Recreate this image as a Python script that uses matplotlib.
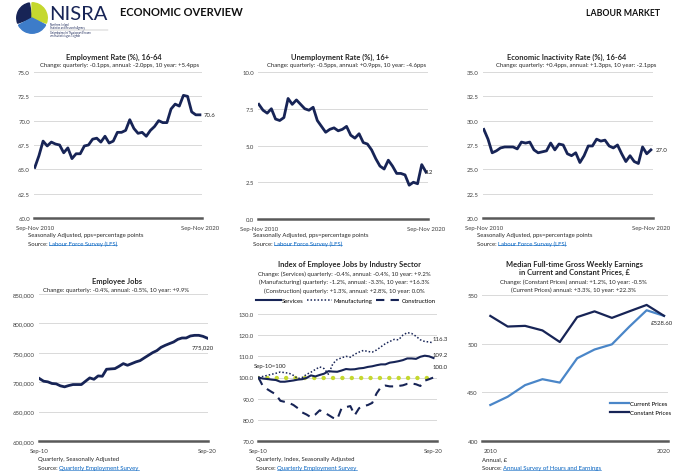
import matplotlib.pyplot as plt
import numpy as np
from matplotlib.patches import Wedge
from matplotlib.lines import Line2D
from matplotlib.ticker import FuncFormatter

plt.rcParams['font.family'] = ['Lato', 'DejaVu Sans']

# --- datos ---
trimestres = list(range(41))
tasa_empleo = [65.2, 66.4, 67.9, 67.4, 67.8, 67.6, 67.5, 66.7, 67.2, 66.1,
               66.6, 66.6, 67.4, 67.5, 68.1, 68.2, 67.8, 68.4, 67.7, 67.9,
               68.8, 68.8, 69.0, 70.1, 69.2, 68.7, 68.8, 68.4, 69.0, 69.4,
               70.0, 69.8, 69.8, 71.2, 71.7, 71.5, 72.6, 72.5, 70.9, 70.6, 70.6]
tasa_desempleo = [7.8, 7.4, 7.2, 7.5, 6.8, 6.7, 6.9, 8.2, 7.8, 8.1,
                  7.8, 7.5, 7.4, 7.6, 6.7, 6.3, 5.9, 6.1, 6.2, 6.0,
                  6.1, 6.3, 5.7, 5.5, 5.8, 5.2, 5.1, 4.7, 4.1, 3.6,
                  3.4, 4.0, 3.6, 3.1, 3.1, 3.0, 2.3, 2.5, 2.4, 3.7, 3.2]
tasa_inactividad = [29.1, 28.1, 26.7, 26.9, 27.2, 27.3, 27.3, 27.3, 27.1, 27.8,
                    27.7, 27.8, 27.0, 26.7, 26.8, 26.9, 27.7, 27.0, 27.6, 27.5,
                    26.6, 26.4, 26.7, 25.7, 26.4, 27.4, 27.4, 28.1, 27.9, 28.0,
                    27.4, 27.2, 27.5, 26.6, 25.8, 26.4, 25.8, 25.6, 27.3, 26.6, 27.0]
empleos = [706200, 701700, 700600, 697800, 697200, 693800, 692100, 694300, 696000, 696000,
           696000, 701700, 707300, 705000, 710700, 710100, 722000, 722600, 723100, 727100,
           731600, 728800, 731600, 734500, 736700, 741300, 745800, 750300, 753700, 759300,
           762700, 765600, 768400, 772900, 775200, 775200, 778600, 779700, 779700, 778000, 775020]
servicios = [100.0, 99.5, 99.3, 99.0, 98.8, 98.0, 98.0, 98.3, 98.6, 99.0,
             99.2, 99.8, 101.0, 100.5, 101.2, 101.8, 103.0, 102.8, 102.7, 103.3,
             104.0, 103.8, 103.9, 104.3, 104.5, 105.0, 105.3, 105.8, 106.2, 106.2,
             107.0, 107.3, 107.7, 108.2, 109.0, 109.0, 108.8, 109.8, 110.3, 110.0, 109.2]
manufactura = [100.0, 100.5, 101.0, 101.5, 102.0, 102.6, 102.3, 102.0, 101.0, 99.5,
               100.0, 101.5, 102.5, 103.8, 105.0, 104.2, 101.5, 106.5, 108.5, 109.3,
               110.0, 109.6, 111.0, 112.0, 112.8, 112.3, 112.0, 113.0, 114.5, 116.0,
               117.0, 118.0, 117.8, 120.0, 121.2, 120.8, 119.5, 117.8, 117.0, 116.8, 116.3]
construccion = [100.0, 96.0, 94.5, 93.2, 92.0, 89.0, 88.5, 88.0, 87.0, 85.5,
                83.5, 82.5, 81.2, 82.5, 84.5, 83.5, 82.3, 81.0, 80.3, 85.5,
                86.0, 86.5, 82.2, 85.5, 86.5, 87.0, 88.0, 92.5, 95.5, 96.2,
                95.8, 95.8, 96.0, 96.3, 97.0, 97.2, 96.8, 96.0, 98.5, 99.2, 100.0]
base_100 = [100.0] * 41
anios = list(range(2010, 2021))
precios_corrientes = [437.0, 445.5, 457.4, 463.5, 460.0, 485.0, 494.0, 499.3, 517.4, 534.3, 528.6]
precios_constantes = [528.5, 517.6, 518.3, 513.6, 501.7, 527.3, 533.2, 526.5, 533.2, 539.8, 528.6]

NAVY = '#172456'
AZUL = '#4a86c8'
VERDE = '#c5d82e'
GRID = '#d9d9d9'
EJE = '#595959'
TXT = '#262626'
LINK = '#0563c1'

FS_TIT = 5.4   # titulos
FS = 4.3       # textos pequeños

W, H = 680, 477
fig = plt.figure(figsize=(6.8, 4.77), dpi=100)
renderer = fig.canvas.get_renderer()


def px_axes(x0, y0, x1, y1):
    return fig.add_axes([x0 / W, 1 - y1 / H, (x1 - x0) / W, (y1 - y0) / H])


def ftext(x, y, s, **kw):
    kw.setdefault('color', TXT)
    kw.setdefault('va', 'center')
    return fig.text(x / W, 1 - y / H, s, **kw)


def fuente(x, y, enlace, fs=FS):
    t = ftext(x, y, 'Source: ', fontsize=fs)
    bb = t.get_window_extent(renderer)
    t2 = fig.text(bb.x1 / W, 1 - y / H, enlace, fontsize=fs, color=LINK, va='center')
    bb2 = t2.get_window_extent(renderer)
    yl = (bb2.y0 + 0.3) / H
    fig.add_artist(Line2D([bb2.x0 / W, bb2.x1 / W], [yl, yl], color=LINK, lw=0.4))


def estilo(ax, ymin, ymax, paso, fmt, xlim, xticks, xlabels):
    ax.set_ylim(ymin, ymax)
    ax.set_yticks(np.arange(ymin, ymax + paso / 2, paso))
    ax.yaxis.set_major_formatter(FuncFormatter(lambda v, p: fmt.format(v)))
    ax.set_xlim(*xlim)
    ax.set_xticks(xticks)
    ax.set_xticklabels(xlabels)
    ax.tick_params(length=0, labelsize=FS, colors='#404040', pad=3)
    ax.tick_params(axis='x', pad=5)
    for s in ['top', 'right', 'left']:
        ax.spines[s].set_visible(False)
    ax.spines['bottom'].set_color(EJE)
    ax.spines['bottom'].set_linewidth(1.8)
    ax.grid(axis='y', color=GRID, lw=0.7)
    ax.set_axisbelow(True)


# --- encabezado ---
logo = px_axes(16, 3, 48, 35)
logo.set_aspect('equal')
logo.axis('off')
logo.set_xlim(-1.05, 1.05)
logo.set_ylim(-1.05, 1.05)
logo.add_patch(Wedge((0, 0), 1, 100, 200, color=NAVY))
logo.add_patch(Wedge((0, 0), 1, -20, 90, color=VERDE))
logo.add_patch(Wedge((0, 0), 1, 208, 333, color='#3d7cc9'))
ftext(49, 14, 'NISRA', fontsize=14.5, color=NAVY)
ftext(50, 26.5, 'Northern Ireland\nStatistics and Research Agency', fontsize=1.9,
      color=NAVY, linespacing=1.0)
fig.add_artist(Line2D([50 / W, 108 / W], [1 - 30.5 / H, 1 - 30.5 / H], color='#999999', lw=0.3))
ftext(50, 34.5, 'Gníomhaireacht Thuaisceart Éireann\num Staitisticí agus Taighde', fontsize=1.9,
      color=NAVY, linespacing=1.0)
ftext(120, 13, 'ECONOMIC OVERVIEW', fontsize=8.0, fontweight='bold', color='#111111')
ftext(660, 14, 'LABOUR MARKET', fontsize=6.3, fontweight='bold', color='#111111', ha='right')

lims_trim = (-0.2, 40.5)

# --- Gráfica 1: tasa de empleo ---
ax1 = px_axes(34, 73, 202, 219)
ax1.plot(trimestres, tasa_empleo, color=NAVY, lw=2)
estilo(ax1, 60, 75, 2.5, '{:.1f}', lims_trim, [0, 40], ['Sep-Nov 2010', 'Sep-Nov 2020'])
ax1.annotate('70.6', (40, tasa_empleo[-1]), xytext=(4, 0), textcoords='offset pixels',
             fontsize=FS, color=TXT, va='center')
ftext(114, 57, 'Employment Rate (%), 16-64', fontsize=FS_TIT, fontweight='bold', ha='center')
ftext(120, 66, 'Change: quarterly: -0.1pps, annual: -2.0pps, 10 year: +5.4pps', fontsize=FS, ha='center')
ftext(28, 235.5, 'Seasonally Adjusted, pps=percentage points', fontsize=FS)
fuente(28, 244, 'Labour Force Survey (LFS)')

# --- Gráfica 2: tasa de desempleo ---
ax2 = px_axes(258, 73, 428, 220)
ax2.plot(trimestres, tasa_desempleo, color=NAVY, lw=2)
estilo(ax2, 0, 10, 2.5, '{:.1f}', lims_trim, [0, 40], ['Sep-Nov 2010', 'Sep-Nov 2020'])
ax2.annotate('3.2', (40, tasa_desempleo[-1]), xytext=(-1, 0), textcoords='offset pixels',
             fontsize=FS, color=TXT, va='center')
ftext(340, 57, 'Unemployment Rate (%), 16+', fontsize=FS_TIT, fontweight='bold', ha='center')
ftext(347, 66, 'Change: quarterly: -0.5pps, annual: +0.9pps, 10 year: -4.6pps', fontsize=FS, ha='center')
ftext(253, 235.5, 'Seasonally Adjusted, pps=percentage points', fontsize=FS)
fuente(253, 244, 'Labour Force Survey (LFS)')

# --- Gráfica 3: tasa de inactividad ---
ax3 = px_axes(483, 73, 653, 219)
ax3.plot(trimestres, tasa_inactividad, color=NAVY, lw=2)
estilo(ax3, 20, 35, 2.5, '{:.1f}', lims_trim, [0, 40], ['Sep-Nov 2010', 'Sep-Nov 2020'])
ax3.annotate('27.0', (40, tasa_inactividad[-1]), xytext=(5, 0), textcoords='offset pixels',
             fontsize=FS, color=TXT, va='center')
ftext(567, 57, 'Economic Inactivity Rate (%), 16-64', fontsize=FS_TIT, fontweight='bold', ha='center')
ftext(576, 66, 'Change: quarterly: +0.4pps, annual: +1.3pps, 10 year: -2.1pps', fontsize=FS, ha='center')
ftext(477, 235.5, 'Seasonally Adjusted, pps=percentage points', fontsize=FS)
fuente(477, 244, 'Labour Force Survey (LFS)')

# --- Gráfica 4: empleos ---
ax4 = px_axes(39, 295, 208, 442)
ax4.plot(trimestres, empleos, color=NAVY, lw=2)
estilo(ax4, 600000, 850000, 50000, '{:,.0f}', (-0.1, 40.2), [0, 40], ['Sep-10', 'Sep-20'])
ax4.annotate('775,020', (40, empleos[-1]), xytext=(-4, -9), textcoords='offset pixels',
             fontsize=FS, color=TXT, va='center', ha='center')
ftext(117, 282, 'Employee Jobs', fontsize=FS_TIT, fontweight='bold', ha='center')
ftext(116, 291, 'Change: quarterly: -0.4%, annual: -0.5%, 10 year: +9.9%', fontsize=FS, ha='center')
ftext(38, 460, 'Quarterly, Seasonally Adjusted', fontsize=FS)
fuente(38, 469, 'Quarterly Employment Survey')

# --- Gráfica 5: índice por sector ---
ax5 = px_axes(258, 315, 437, 442)
ax5.plot(trimestres, base_100, color=VERDE, lw=3.2, linestyle=(0, (0.01, 2.1)),
         dash_capstyle='round')
ax5.plot(trimestres, servicios, color=NAVY, lw=1.5, label='Services')
ax5.plot(trimestres, manufactura, color=NAVY, lw=1.1, linestyle=(0, (1, 1.3)), label='Manufacturing')
ax5.plot(trimestres, construccion, color=NAVY, lw=1.5, linestyle=(0, (4, 3)), label='Construction')
estilo(ax5, 70, 130, 10, '{:.1f}', (-0.1, 40.8), [0, 40], ['Sep-10', 'Sep-20'])
for val, etiqueta in [(manufactura[-1], '116.3'), (servicios[-1], '109.2')]:
    ax5.annotate(etiqueta, (40, val), xytext=(-1, 4), textcoords='offset pixels',
                 fontsize=FS, color=TXT, va='center')
ax5.annotate('100.0', (40, 100), xytext=(-1, 11), textcoords='offset pixels',
             fontsize=FS, color=TXT, va='center')
ax5.annotate('Sep-10=100', (0, 100), xytext=(-5, 12), textcoords='offset pixels',
             fontsize=FS, color=TXT, va='center')
ax5.legend(loc='center', bbox_to_anchor=(0.49, 1 + 14 / 127), ncol=3, frameon=False,
           fontsize=FS, handlelength=4.2, columnspacing=0.6, handletextpad=0.15)
ftext(350, 265, 'Index of Employee Jobs by Industry Sector', fontsize=FS_TIT, fontweight='bold', ha='center')
ftext(344, 274, 'Change: (Services) quarterly: -0.4%, annual: -0.4%, 10 year: +9.2%', fontsize=FS, ha='center')
ftext(344, 282.5, '(Manufacturing) quarterly: -1.2%, annual: -3.3%, 10 year: +16.3%', fontsize=FS, ha='center')
ftext(344, 291, '(Construction) quarterly: +1.3%, annual: +2.8%, 10 year: 0.0%', fontsize=FS, ha='center')
ftext(256, 460, 'Quarterly, Index, Seasonally Adjusted', fontsize=FS)
fuente(256, 469, 'Quarterly Employment Survey')

# --- Gráfica 6: ingresos semanales ---
ax6 = px_axes(482, 296, 668, 442)
ax6.plot(anios, precios_corrientes, color=AZUL, lw=1.6, label='Current Prices')
ax6.plot(anios, precios_constantes, color=NAVY, lw=1.6, label='Constant Prices')
estilo(ax6, 400, 550, 50, '{:.0f}', (2009.52, 2020.23), [2010, 2020], ['2010', '2020'])
ax6.annotate('£528.60', (2020, precios_constantes[-1]), xytext=(-2, -7), textcoords='offset pixels',
             fontsize=FS, color=TXT, va='center', ha='center')
ax6.legend(loc='center left', bbox_to_anchor=(0.66, 0.226), frameon=False, fontsize=FS,
           handlelength=3.2, handletextpad=0.1, labelspacing=0.6)
ftext(574, 264, 'Median Full-time Gross Weekly Earnings', fontsize=FS_TIT, fontweight='bold', ha='center')
ftext(574, 272.5, 'in Current and Constant Prices, £', fontsize=FS_TIT, fontweight='bold', ha='center')
ftext(573, 282, 'Change: (Constant Prices) annual: +1.2%, 10 year: -0.5%', fontsize=FS, ha='center')
ftext(573, 290, '(Current Prices) annual: +3.3%, 10 year: +22.3%', fontsize=FS, ha='center')
ftext(482, 460, 'Annual, £', fontsize=FS)
fuente(482, 469, 'Annual Survey of Hours and Earnings')

fig.savefig('out.png', dpi=100)
